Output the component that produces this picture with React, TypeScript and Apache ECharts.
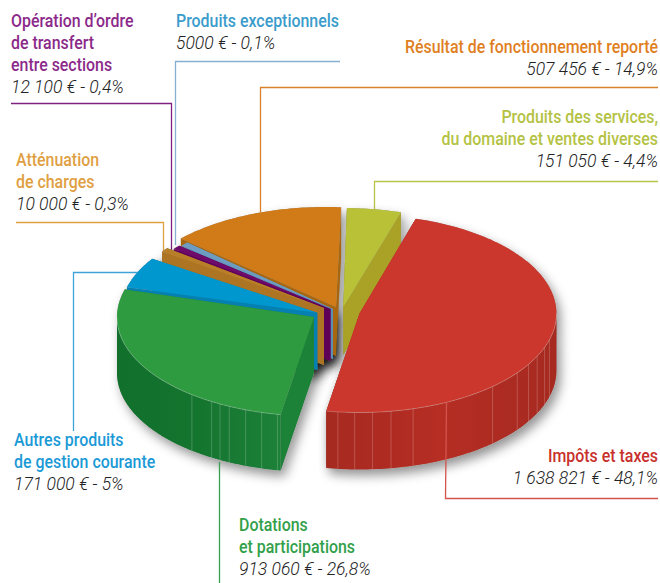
import React, { useEffect, useRef } from "react";
import * as echarts from "echarts";

// ---- Data (paint order: back to front) ----
const categories = [
  "Résultat de fonctionnement reporté",
  "Produits des services, du domaine et ventes diverses",
  "Produits exceptionnels",
  "Opération d’ordre de transfert entre sections",
  "Atténuation de charges",
  "Autres produits de gestion courante",
  "Dotations et participations",
  "Impôts et taxes",
];
const amounts = [507456, 151050, 5000, 12100, 10000, 171000, 913060, 1638821];
const titleLines = [
  ["Résultat de fonctionnement reporté"],
  ["Produits des services,", "du domaine et ventes diverses"],
  ["Produits exceptionnels"],
  ["Opération d’ordre", "de transfert", "entre sections"],
  ["Atténuation", "de charges"],
  ["Autres produits", "de gestion courante"],
  ["Dotations", "et participations"],
  ["Impôts et taxes"],
];
const valueLabels = [
  "507 456 € - 14,9%",
  "151 050 € - 4,4%",
  "5000 € - 0,1%",
  "12 100 € - 0,4%",
  "10 000 € - 0,3%",
  "171 000 € - 5%",
  "913 060 € - 26,8%",
  "1 638 821 € - 48,1%",
];

// ---- Layout and style ----
const RX = 197;
const RY = 99;
const MIN_SWEEP = 2.5;
const total = amounts.reduce((a, b) => a + b, 0);

type SliceStyle = {
  cx: number; cy: number; ax?: number; ay?: number; depth: number; fromDeg: number; scale?: number;
  top: string; cut: string; wall?: string[]; facets?: number[];
};
const sliceStyles: SliceStyle[] = [
  { cx: 325, cy: 306, ax: 336, ay: 307, depth: 49, fromDeg: 85.3, scale: 0.965, top: "#d07b18", cut: "#a8660f" },
  { cx: 343.3, cy: 307, depth: 48, fromDeg: 73, top: "#b9c136", cut: "#a9a226" },
  { cx: 333, cy: 309, depth: 50, fromDeg: 137.8, top: "#6d9cc2", cut: "#5f8fb0" },
  { cx: 330.5, cy: 309, depth: 52, fromDeg: 140.2, top: "#6e0a6a", cut: "#5e0058" },
  { cx: 324, cy: 308, depth: 57, fromDeg: 142.8, top: "#b87f28", cut: "#ad7424" },
  { cx: 317.3, cy: 312.7, depth: 57, fromDeg: 147, top: "#0097cf", cut: "#0680b0" },
  {
    cx: 314, cy: 317, depth: 56, fromDeg: -196.2, top: "#2f9b41", cut: "#1c8238",
    wall: ["#11702c", "#14752f", "#1d8139"],
    facets: [-128.3, -121.3, -118.5, -115.5, -110.3, -105.4, -100.7],
  },
  {
    cx: 359.5, cy: 313.5, depth: 57, fromDeg: -99.7, top: "#cb372c", cut: "#a82820",
    wall: ["#a62a20", "#ae2b22", "#b62e24", "#ad2b22", "#a62a20"],
    facets: [-96.3, -91.4, -86.2, -80.8, -74.2, -47.5, -36.8, -30.9, -25.6, -20, -15.4],
  },
];

type LabelStyle = { x: number; y: number; align: string; color: string; line: number[][]; lineColor: string; front?: boolean };
const labelStyles: LabelStyle[] = [
  { x: 658, y: 47, align: "right", color: "#e07f22", lineColor: "#d9822a", line: [[658, 87.5], [260.5, 87.5], [260.5, 212]] },
  { x: 658, y: 117, align: "right", color: "#b4c244", lineColor: "#b9c44a", line: [[658, 181.5], [374.5, 181.5], [374.5, 212]] },
  { x: 176, y: 21, align: "left", color: "#3a9ccb", lineColor: "#86afd0", line: [[340, 61.5], [175.5, 61.5], [175.5, 245]] },
  { x: 11, y: 21, align: "left", color: "#8b2a8a", lineColor: "#7d2080", line: [[11, 103.5], [171.5, 103.5], [171.5, 250]] },
  { x: 16, y: 160, align: "left", color: "#e09f43", lineColor: "#e0a040", line: [[16, 222.5], [163.5, 222.5], [163.5, 255]] },
  { x: 14, y: 440, align: "left", color: "#1b9ad6", lineColor: "#3ea3d9", line: [[73.5, 431], [73.5, 272.5], [145, 272.5]] },
  { x: 239, y: 525, align: "left", color: "#32a04a", lineColor: "#3aa04f", front: true, line: [[219.5, 462], [219.5, 583]] },
  { x: 658, y: 456, align: "right", color: "#c8302b", lineColor: "#d2554d", front: true, line: [[446.5, 403], [445.5, 498.5], [658, 498.5]] },
];

const rad = (d: number) => (d * Math.PI) / 180;

function geometry(i: number) {
  const s = sliceStyles[i];
  const sweep = Math.max((amounts[i] / total) * 360, MIN_SWEEP) * (s.scale ?? 1);
  const a0 = s.fromDeg;
  const a1 = a0 + sweep;
  const pt = (deg: number, dy = 0): number[] => [
    s.cx + RX * Math.cos(rad(deg)),
    s.cy - RY * Math.sin(rad(deg)) + dy,
  ];
  const arc = (from: number, to: number, dy = 0) => {
    const n = Math.max(2, Math.ceil(Math.abs(to - from)));
    const out: number[][] = [];
    for (let k = 0; k <= n; k++) out.push(pt(from + ((to - from) * k) / n, dy));
    return out;
  };
  return { s, a0, a1, pt, arc };
}

function renderSlice(shadowPass: boolean) {
  return (params: any) => {
    const i = params.dataIndex;
    const { s, a0, a1, pt, arc } = geometry(i);
    const apex = [s.ax ?? s.cx, s.ay ?? s.cy];
    const apexLow = [apex[0], apex[1] + s.depth];
    const topPts = [apex, ...arc(a0, a1)];
    const cutA = [apex, pt(a0), pt(a0, s.depth), apexLow];
    const cutB = [apex, pt(a1), pt(a1, s.depth), apexLow];
    // Front facing part of the rim: angles between -180 and 0
    const w0 = Math.max(a0, -180);
    const w1 = Math.min(a1, 0);
    const hasWall = w1 > w0;
    const wallPts = hasWall ? [...arc(w0, w1), ...arc(w1, w0, s.depth)] : [];
    const children: any[] = [];
    if (shadowPass) {
      const shadow = {
        fill: "#9a9a9a",
        shadowBlur: 11,
        shadowOffsetX: 4,
        shadowOffsetY: 6,
        shadowColor: "rgba(0,0,0,0.42)",
      };
      [topPts, cutA, cutB, ...(hasWall ? [wallPts] : [])].forEach((points) =>
        children.push({ type: "polygon", shape: { points }, style: shadow })
      );
      return { type: "group", children };
    }
    children.push({ type: "polygon", shape: { points: cutA }, style: { fill: s.cut } });
    children.push({ type: "polygon", shape: { points: cutB }, style: { fill: s.cut } });
    if (hasWall) {
      const stops = s.wall ?? [s.cut, s.cut];
      children.push({
        type: "polygon",
        shape: { points: wallPts },
        style: {
          fill: {
            type: "linear", x: 0, y: 0, x2: 1, y2: 0,
            colorStops: stops.map((color, k) => ({ offset: k / (stops.length - 1), color })),
          },
        },
      });
      (s.facets ?? []).forEach((deg) => {
        children.push({
          type: "polyline",
          shape: { points: [pt(deg), pt(deg, s.depth)] },
          style: { stroke: "rgba(255,255,255,0.25)", lineWidth: 0.8, fill: "none" },
        });
      });
    }
    children.push({ type: "polygon", shape: { points: topPts }, style: { fill: s.top } });
    if (hasWall) {
      children.push({
        type: "polyline",
        shape: { points: arc(w0, w1) },
        style: { stroke: "rgba(255,255,255,0.3)", lineWidth: 0.8, fill: "none" },
      });
    }
    return { type: "group", children };
  };
}

const TITLE_FONT = { fontFamily: "Roboto, sans-serif", fontSize: 18, fontWeight: 500 };
const TITLE_SCALE = 0.885;
const VALUE_FONT = { fontFamily: "Roboto, sans-serif", fontSize: 17.5, fontStyle: "italic", fontWeight: 300 };
const LINE_STEP = 22;

function buildGraphics() {
  const elements: any[] = [];
  labelStyles.forEach((l, i) => {
    elements.push({
      type: "polyline",
      z: l.front ? 10 : 0,
      silent: true,
      shape: { points: l.line },
      style: { stroke: l.lineColor, lineWidth: 1.3, fill: "none" },
    });
    titleLines[i].forEach((text, k) => {
      elements.push({
        type: "text",
        z: 11,
        silent: true,
        x: l.x,
        y: l.y + k * LINE_STEP,
        scaleX: TITLE_SCALE,
        style: {
          text, x: 0, y: 0, fill: l.color,
          textAlign: l.align, textVerticalAlign: "middle", ...TITLE_FONT,
        },
      });
    });
    elements.push({
      type: "text",
      z: 11,
      silent: true,
      style: {
        text: valueLabels[i], x: l.x, y: l.y + titleLines[i].length * LINE_STEP, fill: "#222222",
        textAlign: l.align, textVerticalAlign: "middle", ...VALUE_FONT,
      },
    });
  });
  return elements;
}

export default function App() {
  const ref = useRef<HTMLDivElement>(null);
  useEffect(() => {
    const chart = echarts.init(ref.current!, undefined, { renderer: "svg" });
    const data = amounts.map((v, i) => ({ name: categories[i], value: [v] }));
    chart.setOption({
      animation: false,
      backgroundColor: "#ffffff",
      graphic: { elements: buildGraphics() },
      series: [
        { type: "custom", coordinateSystem: "none", silent: true, z: 1, data, renderItem: renderSlice(true) },
        { type: "custom", coordinateSystem: "none", silent: true, z: 2, data, renderItem: renderSlice(false) },
      ],
    });
    return () => chart.dispose();
  }, []);
  return <div ref={ref} style={{ position: "absolute", left: 0, top: 0, width: 660, height: 583 }} />;
}
